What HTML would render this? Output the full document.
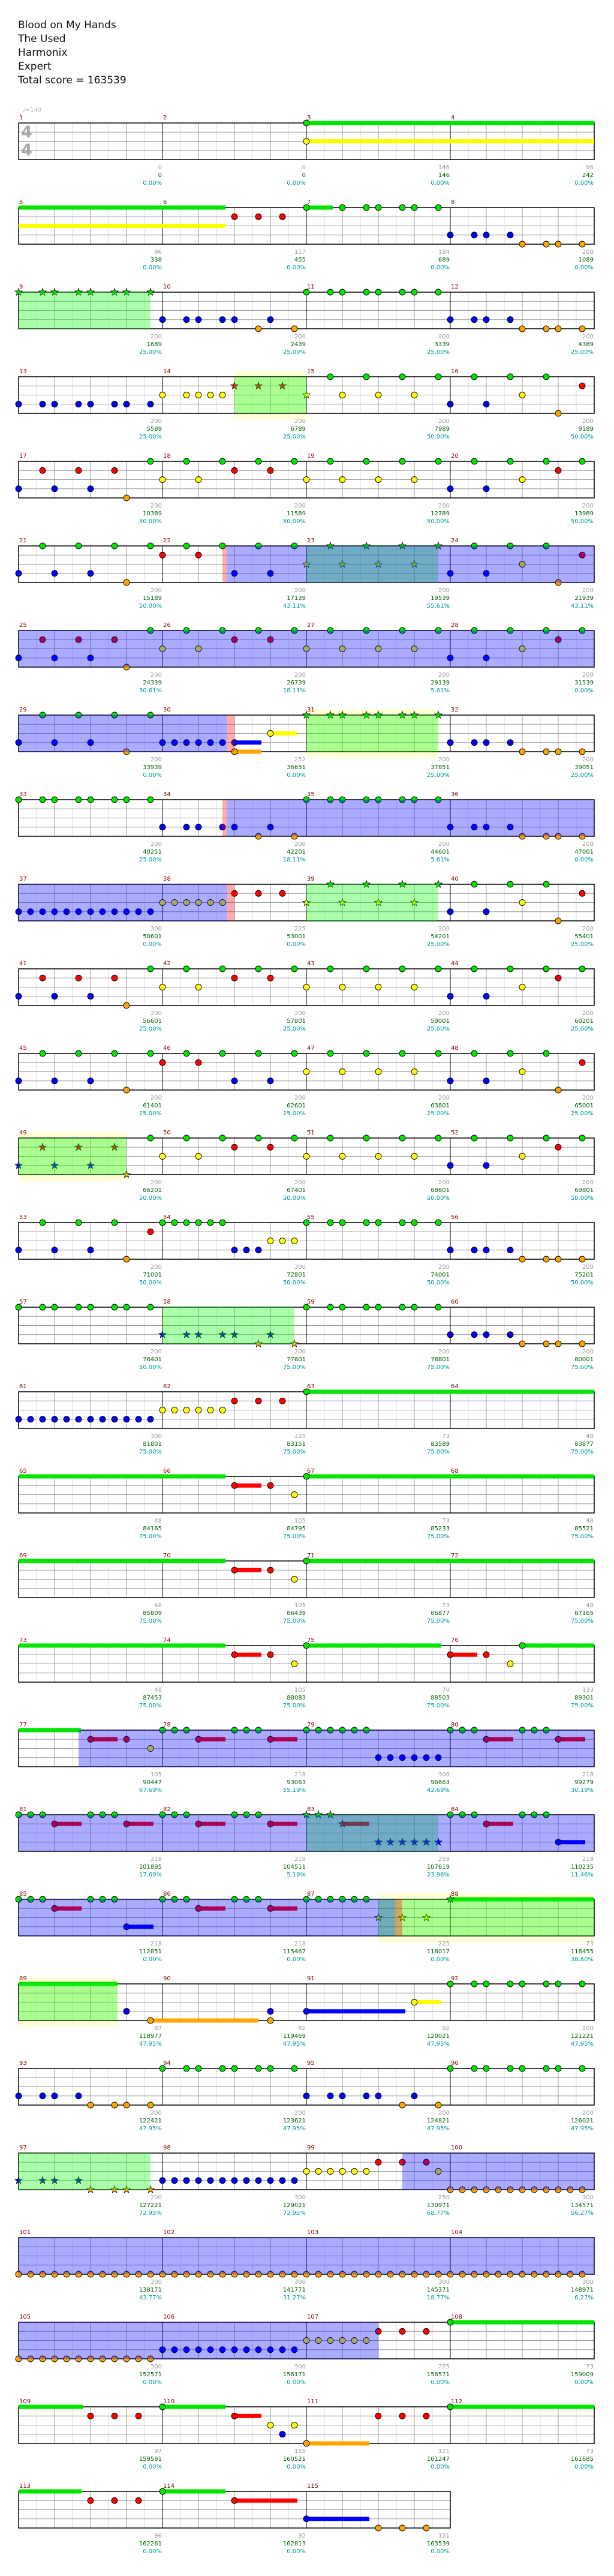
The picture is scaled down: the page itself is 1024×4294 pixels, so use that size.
<!DOCTYPE html>
<html><head><meta charset="utf-8">
<style>
html,body{margin:0;padding:0;background:#fff;}
body{width:1024px;height:4294px;overflow:hidden;position:relative;font-family:"DejaVu Sans","Liberation Sans",sans-serif;}
#hdr{position:absolute;left:30px;top:31px;font-size:17px;line-height:23px;color:#111;}
svg{position:absolute;left:0;top:0;}
</style></head><body>
<div id="hdr">Blood on My Hands<br>The Used<br>Harmonix<br>Expert<br>Total score = 163539</div>
<svg id="s" width="1024" height="4294" xmlns="http://www.w3.org/2000/svg">
<text x="37" y="186" font-size="10" fill="#aaa" font-family="DejaVu Sans,sans-serif">♩=140</text>
</svg>
<script>
const C={g:'#00e400',r:'#ff0000',y:'#ffff00',b:'#0000ff',o:'#ffa500'};
const LN={g:0,r:1,y:2,b:3,o:4};
const LY=[0,15.25,30.5,45.75,61];
function lst(s){let o=[];s.split(',').forEach(t=>{if(t.includes('..')){let[a,b]=t.split('..');let st=1;if(b.includes(':')){let q=b.split(':');b=q[0];st=+q[1];}for(let v=+a;v<=+b+1e-9;v+=st)o.push(v)}else if(t!=='')o.push(+t)});return o}
const R=[
{n:"g24;y24",s:"g24-48,y24-48"},
{n:"r18,20,22;g24,27,29,30,32,33,35;b36,38,39,41;o42,44,45,47",s:"g0-17.25,y0-17.25,g24-26.2"},
{n:"G0,2,3,5,6,8,9,11;b12,14,15,17,18,21;o20,23;g24,26,27,29,30,32,33,35;b36,38,39,41;o42,44,45,47",v:"g0-11"},
{n:"b0,2,3,5,6,8,9,11;y12,14,15,16,17;R18,20,22;Y24;g26,29,32,35,38,41,44;y27,30,33,42;r47;b36,39;o45",v:"Y18-24,g18-24"},
{n:"r2,5,8;b0,3,6;o9;g11..47:3;y12,15,24,27,30,33,42;r18,21,45;b36,39"},
{n:"g2,5,8,11,14,17,20,23;G26,29,32,35;g38,41,44;b0,3,6;o9;r12,15;b18,21;Y24,27,30,33;b36,39;y42;r47;o45",v:"g24-35,r17-17.35,b17.35-48"},
{n:"b0,3,6;r2,5,8;o9;g11..47:3;y12,15,24,27,30,33,42;r18,21,45;b36,39",v:"b0-48"},
{n:"g2,5,8,11;b0,3,6;o9;b12..18;o18;y21;G24,26,27,29,30,32,33,35;b36,38,39,41;o42,44,45,47",s:"b18-20.25,o18-20.25,y21-23.25",v:"Y24-35,g24-35,b0-17.4,r17.4-18"},
{n:"g0,2,3,5,6,8,9,11;b12,14,15,17;b18,21;o20,23;g24,26,27,29,30,32,33,35;b36,38,39,41;o42,44,45,47",v:"r17-17.35,b17.35-48"},
{n:"b0..11;y12..17;r18,20,22;G26,29,32,35;Y24,27,30,33;g38,41,44;r47;y42;b36,39;o45",v:"g24-35,b0-17.4,r17.4-18"},
{n:"r2,5,8;b0,3,6;o9;g11..47:3;y12,15,24,27,30,33,42;r18,21,45;b36,39"},
{n:"g2..44:3;b0,3,6;o9;r12,15;b18,21;y24,27,30,33,42;b36,39;o45;r47"},
{n:"R2,5,8;B0,3,6;O9;g11..47:3;y12,15,24,27,30,33,42;r18,21,45;b36,39",v:"Y0-9,g0-9"},
{n:"g2,5,8;b0,3,6;o9;r11;g12..17;b18,19,20;y21,22,23;g24,26,27,29,30,32,33,35;b36,38,39,41;o42,44,45,47"},
{n:"g0,2,3,5,6,8,9,11;B12,14,15,17,18,21;O20,23;g24,26,27,29,30,32,33,35;b36,38,39,41;o42,44,45,47",v:"g12-23"},
{n:"b0..11;y12..17;r18,20,22;g24",s:"g24-48"},
{n:"r18,21;y23;g24",s:"g0-17.25,r18-20.25,g24-48"},
{n:"r18,21;y23;g24",s:"g0-17.25,r18-20.25,g24-48"},
{n:"r18,21;y23;g24;r36,39;y41;g42",s:"g0-17.25,r18-20.25,g24-35.25,r36-38.25,g42-48"},
{n:"r6,9;y11;g12,13,14;r15;g18,19,20;r21;g24..29;b30..35;g36,37,38;r39;g42,43,44;r45",s:"g0-5.2,r6-8.25,r15-17.25,r21-23.25,r39-41.25,r45-47.25",v:"b5-48"},
{n:"g0,1,2;r3;g6,7,8;r9;g12,13,14;r15;g18,19,20;r21;G24,25,26;R27;B30..35;g36,37,38;r39;g42,43,44;b45",s:"r3-5.25,r9-11.25,r15-17.25,r21-23.25,r27-29.25,r39-41.25,b45-47.25",v:"g24-35,b0-48"},
{n:"g0,1,2;r3;g6,7,8;b9;g12,13,14;r15;g18,19,20;r21;g24..29;Y30,32,34;G36",s:"r3-5.25,b9-11.25,r15-17.25,r21-23.25,g36-48",v:"Y30-48,g30-48,b0-31.4,r31.4-32"},
{n:"b9,21,24;o11,21;y33;g36,38,39,41,42,44,45,47",s:"g0-8.25,b24-32.25,o11-20,y33-35.25",v:"Y0-8.25,g0-8.25"},
{n:"b0,2,3,5;o6,8,9,11;g12,14,15,17,18,20,21,23;b24,26,27,29,30,33;o32,35;g36,38,39,41,42,44,45,47"},
{n:"B0,2,3,5;O6,8,9,11;b12..23;y24..29;r30,32,34;y35;o36..47",v:"g0-11,b32-48"},
{n:"o0..47",v:"b0-48"},
{n:"o0..11;b12..23;y24..29;r30,32,34;g36",s:"g36-48",v:"b0-30"},
{n:"r6,8,10;g12;r18;y21,23;b22;o24;r30,32,34;g36",s:"g0-5.4,g12-17.25,r18-20.25,o24-29.25,g36-48"},
{n:"r6,8,10;g12;r18;b24;o30,32,34",s:"g0-5.25,g12-17.25,r18-23.25,b24-29.25"}
];
const LB=["0 0 0.00%","0 0 0.00%","146 146 0.00%","96 242 0.00%",
"96 338 0.00%","117 455 0.00%","184 689 0.00%","200 1089 0.00%",
"200 1689 25.00%","200 2439 25.00%","200 3339 25.00%","200 4389 25.00%",
"200 5589 25.00%","200 6789 25.00%","200 7989 50.00%","200 9189 50.00%",
"200 10389 50.00%","200 11589 50.00%","200 12789 50.00%","200 13989 50.00%",
"200 15189 50.00%","200 17139 43.11%","200 19539 55.61%","200 21939 43.11%",
"200 24339 30.61%","200 26739 18.11%","200 29139 5.61%","200 31539 0.00%",
"200 33939 0.00%","252 36651 0.00%","200 37851 25.00%","200 39051 25.00%",
"200 40251 25.00%","200 42201 18.11%","200 44601 5.61%","200 47001 0.00%",
"300 50601 0.00%","225 53001 0.00%","200 54201 25.00%","200 55401 25.00%",
"200 56601 25.00%","200 57801 25.00%","200 59001 25.00%","200 60201 25.00%",
"200 61401 25.00%","200 62601 25.00%","200 63801 25.00%","200 65001 25.00%",
"200 66201 50.00%","200 67401 50.00%","200 68601 50.00%","200 69801 50.00%",
"200 71001 50.00%","300 72801 50.00%","200 74001 50.00%","200 75201 50.00%",
"200 76401 50.00%","200 77601 75.00%","200 78801 75.00%","200 80001 75.00%",
"300 81801 75.00%","225 83151 75.00%","73 83589 75.00%","48 83877 75.00%",
"48 84165 75.00%","105 84795 75.00%","73 85233 75.00%","48 85521 75.00%",
"48 85809 75.00%","105 86439 75.00%","73 86877 75.00%","48 87165 75.00%",
"48 87453 75.00%","105 88083 75.00%","70 88503 75.00%","133 89301 75.00%",
"105 90447 67.69%","218 93063 55.19%","300 96663 42.69%","218 99279 30.19%",
"218 101895 17.69%","218 104511 5.19%","259 107619 23.96%","218 110235 11.46%",
"218 112851 0.00%","218 115467 0.00%","225 118017 0.00%","73 118455 38.60%",
"87 118977 47.95%","82 119469 47.95%","92 120021 47.95%","200 121221 47.95%",
"200 122421 47.95%","200 123621 47.95%","200 124821 47.95%","200 126021 47.95%",
"200 127221 72.95%","300 129021 72.95%","250 130971 68.77%","300 134571 56.27%",
"300 138171 43.77%","300 141771 31.27%","300 145371 18.77%","300 148971 6.27%",
"300 152571 0.00%","300 156171 0.00%","225 158571 0.00%","73 159009 0.00%",
"97 159591 0.00%","155 160521 0.00%","121 161247 0.00%","73 161685 0.00%",
"96 162261 0.00%","92 162813 0.00%","121 163539 0.00%"];
const MN=[];for(let i=1;i<=115;i++)MN.push(String(i));
function X(u){return 31+u*20}
function star(cx,cy,col){let p=[];for(let i=0;i<10;i++){let a=-Math.PI/2+i*Math.PI/5;let rr=i%2?2.6:6.5;p.push((cx+rr*Math.cos(a)).toFixed(1)+','+(cy+rr*Math.sin(a)).toFixed(1))}return `<polygon points="${p.join(' ')}" fill="${col}" stroke="#000" stroke-width="0.7"/>`}
let h='';
h+=`<text x="35" y="229" font-size="27" font-weight="bold" fill="#aaa">4</text><text x="35" y="259" font-size="27" font-weight="bold" fill="#aaa">4</text>`;
let mi=0;
R.forEach((row,r)=>{
 const T=205+141*r, nm=r<28?4:3, RX=31+nm*240, B=T+61;
 const ov=(row.v||'').split(',').filter(x=>x).map(t=>{let k=t[0];let[a,b]=t.slice(1).split('-');return[k,+a,+b]});
 let g='';
 ov.filter(o=>o[0]=='Y').forEach(o=>{g+=`<rect x="${X(o[1])}" y="${T-10}" width="${X(o[2])-X(o[1])}" height="81" fill="#ffffd6"/>`});
 for(let k=0;k<=nm*8;k++){if(k%2)g+=`<line x1="${31+k*30}" y1="${T}" x2="${31+k*30}" y2="${B}" stroke="#ddd"/>`}
 for(let i=1;i<4;i++)g+=`<line x1="31" y1="${T+LY[i]}" x2="${RX}" y2="${T+LY[i]}" stroke="#999"/>`;
 for(let k=0;k<=nm*8;k+=2){let c=k%8==0?'#000':'#999';g+=`<line x1="${31+k*30}" y1="${T}" x2="${31+k*30}" y2="${B}" stroke="${c}"/>`}
 g+=`<rect x="31" y="${T}" width="${RX-31}" height="61" fill="none" stroke="#000" stroke-width="1.5"/>`;
 (row.s||'').split(',').filter(x=>x).forEach(t=>{let k=t[0];let[a,b]=t.slice(1).split('-');g+=`<rect x="${X(+a)}" y="${T+LY[LN[k]]-3.5}" width="${X(+b)-X(+a)}" height="7" fill="${C[k]}"/>`});
 row.n.split(';').forEach(t=>{let k=t[0],lk=k.toLowerCase(),st=k!=lk;lst(t.slice(1)).forEach(u=>{let cx=X(u),cy=T+LY[LN[lk]];g+=st?star(cx,cy,C[lk]):`<circle cx="${cx}" cy="${cy}" r="5" fill="${C[lk]}" stroke="#000" stroke-width="0.9"/>`})});
 ov.filter(o=>o[0]=='g').forEach(o=>{g+=`<rect x="${X(o[1])}" y="${T}" width="${X(o[2])-X(o[1])}" height="61" fill="rgba(0,255,0,0.33)"/>`});
 ov.filter(o=>o[0]=='b').forEach(o=>{g+=`<rect x="${X(o[1])}" y="${T}" width="${X(o[2])-X(o[1])}" height="61" fill="rgba(0,0,255,0.33)"/>`});
 ov.filter(o=>o[0]=='r').forEach(o=>{g+=`<rect x="${X(o[1])}" y="${T}" width="${X(o[2])-X(o[1])}" height="61" fill="rgba(255,0,0,0.33)"/>`});
 for(let m=0;m<nm;m++){
  const xs=31+m*240, xe=xs+240, L=LB[mi].split(' ');
  g+=`<text x="${xs+1}" y="${T-6}" font-size="10" fill="#8b0000">${MN[mi]}</text>`;
  g+=`<text x="${xe-1}" y="${T+77}" font-size="10" fill="#999" text-anchor="end">${L[0]}</text>`;
  g+=`<text x="${xe-1}" y="${T+90}" font-size="10" fill="#006400" text-anchor="end">${L[1]}</text>`;
  g+=`<text x="${xe-1}" y="${T+103}" font-size="10" fill="#009999" text-anchor="end">${L[2]}</text>`;
  mi++;
 }
 h+=g;
});
const s=document.getElementById('s');
s.insertAdjacentHTML('beforeend',h);
s.setAttribute('font-family','DejaVu Sans, Liberation Sans, sans-serif');
</script>
</body></html>
